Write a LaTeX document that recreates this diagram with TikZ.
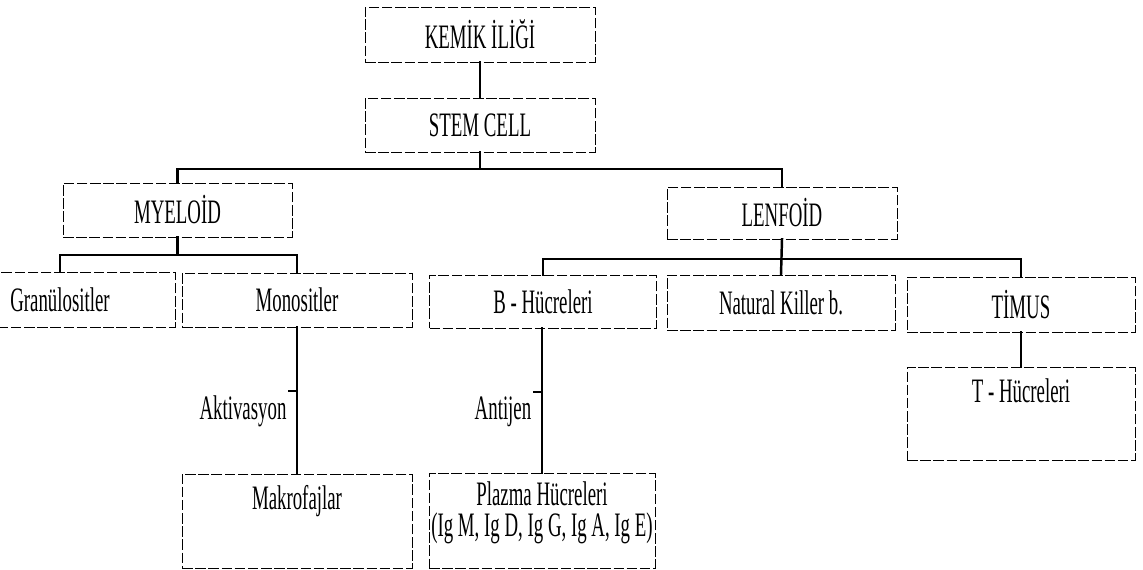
\documentclass[tikz,border=0pt]{standalone}
\usepackage{fontspec}
\setmainfont{Liberation Serif}[FakeStretch=0.55]
\usetikzlibrary{positioning}

\begin{document}
\begin{tikzpicture}[x=0.02cm, y=-0.02cm,
  cell/.style={draw, line width=0.5pt, dash pattern=on 6pt off 1.5pt,
    minimum width=4.6cm, minimum height=1.08cm, inner sep=0pt,
    font=\fontsize{19.5}{15}\selectfont},
  celltext/.style={inner sep=0pt, font=\fontsize{19.5}{18}\selectfont, align=center},
  link/.style={line width=1.4pt, line cap=rect}
]
  \useasboundingbox (0,0) rectangle (1143,570);
  % top of the tree
  \node[cell, minimum height=1.1cm] (kemik) at (480,34.5) {KEMİK İLİĞİ};
  \node[cell] (stem) at (480,125) {STEM CELL};
  \node[cell, minimum width=4.58cm] (myeloid) at (177.5,210) {MYELOİD};
  \node[cell, minimum height=1.04cm] (lenfoid) at (782,213) {LENFOİD};
  % second row
  \node[cell, minimum height=1.1cm] (gran) at (60,299.5) {Granülositler};
  \node[cell] (mono) at (297,300) {Monositler};
  \node[cell, minimum width=4.54cm, minimum height=1.06cm] (bcell) at (543,301.5) {B - Hücreleri};
  \node[cell, minimum width=4.56cm, minimum height=1.1cm] (nk) at (781,302.5) {Natural Killer b.};
  \node[cell, minimum width=4.56cm, minimum height=1.1cm] (timus) at (1021,304.5) {TİMUS};
  % bottom boxes, text near their top
  \node[cell, minimum height=1.88cm] (makro) at (297,521) {};
  \node[celltext, anchor=base] (makrotxt) at (297,510) {Makrofajlar};
  \node[cell, minimum width=4.52cm, minimum height=1.9cm] (plazma) at (542,520.5) {};
  \node[celltext, anchor=base] (plazmatxt) at (542,537) {Plazma Hücreleri\\(Ig M, Ig D, Ig G, Ig A, Ig E)};
  \node[cell, minimum width=4.56cm, minimum height=1.86cm] (thucre) at (1021,413.5) {};
  \node[celltext, anchor=base] (thucretxt) at (1021,403) {T - Hücreleri};
  % labels on the lines
  \node[celltext, anchor=base] (aktiv) at (243,420) {Aktivasyon};
  \node[celltext, anchor=base] (antijen) at (503,420) {Antijen};
  % connectors
  \coordinate (busA) at (480,169);
  \coordinate (busB) at (177.5,255);
  \coordinate (busC) at (782,259);
  \coordinate (tickA) at (297,391);
  \coordinate (tickB) at (542,392);
  \draw[link] (kemik.south) -- (stem.north);
  \draw[link] (stem.south) -- (busA);
  \draw[link] (myeloid.north) |- (busA) -| (lenfoid.north);
  \draw[link] (myeloid.south) -- (busB);
  \draw[link] (gran.north) |- (busB) -| (mono.north);
  \draw[link] (lenfoid.south) -- (nk.north);
  \draw[link] (bcell.north) |- (busC) -| (timus.north);
  \draw[link] (mono.south) -- (makro.north);
  \draw[link] (tickA) -- ++(-8,0);
  \draw[link] (bcell.south -| plazma.north) -- (plazma.north);
  \draw[link] (tickB) -- ++(-8,0);
  \draw[link] (timus.south) -- (thucre.north);
\end{tikzpicture}
\end{document}
